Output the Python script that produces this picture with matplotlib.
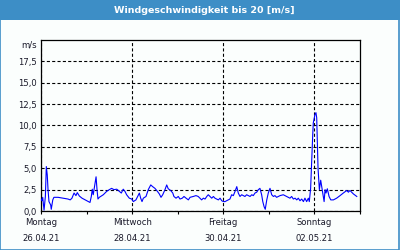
import matplotlib
matplotlib.use("Agg")
import matplotlib.pyplot as plt
from matplotlib.patches import Rectangle

# Stunden ab Montag 26.04.21 00:00 und Windgeschwindigkeit in m/s
hours = [0, 0.5, 0.9, 1.6, 2.3, 2.8, 3.3, 3.7, 4.2, 5.1, 5.4, 6.2, 6.8, 9.0, 11.6,
         14.2, 15.4, 16.3, 17.4, 18.4, 19.1, 20.2, 21.6, 23.3, 25.1, 25.8, 26.5,
         27.0, 27.5, 28.3, 29.0, 29.5, 30.0, 30.7, 32.8, 34.6, 36.0, 37.2, 38.4,
         39.9, 41.2, 42.3, 43.3, 44.2, 45.1, 46.5, 47.8, 48.6, 50.0, 50.9, 51.8,
         52.5, 53.2, 53.9, 55.3, 56.5, 57.8, 58.8, 60.0, 61.3, 62.3, 63.2, 64.1,
         65.3, 66.2, 67.0, 68.3, 69.4, 70.0, 71.1, 72.3, 73.2, 74.4, 75.3, 76.4,
         77.6, 78.5, 80.2, 81.6, 82.8, 83.7, 84.6, 85.5, 86.4, 87.3, 88.1, 89.0,
         89.9, 90.8, 91.6, 92.5, 93.4, 94.3, 95.2, 96.0, 96.9, 97.8, 98.6, 99.5,
         100.4, 101.3, 102.2, 103.1, 103.9, 104.8, 105.7, 106.6, 107.4, 108.3,
         109.2, 110.1, 111.0, 111.8, 112.7, 113.6, 114.5, 115.3, 116.2, 116.8,
         117.5, 118.1, 118.9, 119.7, 120.6, 121.5, 122.4, 123.2, 124.1, 125.0,
         125.9, 127.6, 129.4, 131.1, 132.0, 132.9, 133.8, 134.7, 135.5, 136.4,
         137.3, 138.2, 139.0, 139.9, 140.8, 141.3, 142.0, 142.6, 143.1, 143.4,
         144.3, 144.8, 145.2, 145.5, 145.9, 146.2, 146.6, 147.3, 147.8, 148.4,
         149.1, 149.6, 150.1, 150.8, 151.7, 152.6, 154.0, 155.7, 157.5, 159.2,
         161.0, 161.9, 162.7, 164.5, 166.3]
wind = [1.4, 1.2, 1.6, 0.1, 1.7, 5.2, 4.2, 2.5, 1.1, 0.7, 0.2, 1.3, 1.6, 1.6, 1.5,
        1.4, 1.3, 1.5, 2.1, 1.8, 2.15, 1.75, 1.5, 1.3, 1.1, 1.0, 1.7,
        2.55, 1.9, 3.05, 4.0, 2.5, 1.4, 1.6, 1.9, 2.3, 2.5, 2.65, 2.5,
        2.55, 2.3, 2.1, 2.55, 2.3, 1.9, 1.5, 1.4, 1.1, 1.3, 1.7, 2.1,
        1.5, 1.1, 1.5, 1.7, 2.5, 3.05, 2.85, 2.65, 2.3, 2.0, 1.6, 1.9,
        2.5, 3.05, 2.6, 2.4, 2.1, 1.7, 1.5, 1.7, 1.4, 1.5, 1.7, 1.5,
        1.3, 1.6, 1.7, 1.8, 1.7, 1.5, 1.3, 1.5, 1.4, 1.7, 1.9, 1.7,
        1.5, 1.7, 1.5, 1.4, 1.3, 1.5, 1.2, 1.1, 1.1, 1.2, 1.3, 1.4,
        1.9, 1.8, 2.3, 2.85, 2.1, 1.7, 1.9, 1.8, 1.7, 1.9,
        1.8, 1.7, 1.9, 1.8, 2.1, 2.2, 2.5, 2.65, 1.9, 1.1,
        0.5, 0.2, 1.3, 2.1, 2.65, 1.9, 1.7, 1.8, 1.6, 1.7,
        1.8, 1.9, 1.7, 1.5, 1.7, 1.4, 1.5, 1.3, 1.5, 1.2,
        1.4, 1.1, 1.5, 1.1, 1.5, 1.1, 2.65, 6.2, 8.9, 10.3,
        11.3, 11.5, 10.9, 8.3, 5.0, 4.0, 2.5, 3.6, 2.9, 2.0,
        1.1, 2.5, 2.1, 2.6, 1.7, 1.3, 1.3, 1.5, 1.8, 2.1,
        2.4, 2.2, 2.4, 2.0, 1.7]

day_ticks = [0, 48, 96, 144]
day_labels = ["Montag\n26.04.21", "Mittwoch\n28.04.21", "Freitag\n30.04.21", "Sonntag\n02.05.21"]
y_ticks = [0, 2.5, 5, 7.5, 10, 12.5, 15, 17.5]

blue = "#3d8ec6"
txt = "#1a1a2a"
fig = plt.figure(figsize=(4, 2.5), dpi=100)
fig.patch.set_facecolor("#fbfefd")

# Titelleiste und Rahmen
fig.patches.append(Rectangle((0, 0.92), 1, 0.08, transform=fig.transFigure,
                             facecolor=blue, edgecolor="none", zorder=0))
fig.patches.append(Rectangle((0.0012, 0.002), 0.9975, 0.996, transform=fig.transFigure,
                             facecolor="none", edgecolor=blue, lw=1.2, zorder=1))
fig.text(0.51, 0.959, "Windgeschwindigkeit bis 20 [m/s]", color="white",
         ha="center", va="center", fontsize=6.8, fontweight="bold")

ax = fig.add_axes([0.1025, 0.156, 0.7975, 0.684])
ax.set_facecolor("#fbfefd")
ax.plot(hours, wind, color="#0000ff", lw=0.8, zorder=3)

ax.set_xlim(0, 168)
ax.set_ylim(0, 20)
ax.set_xticks(day_ticks)
ax.set_xticklabels(day_labels, fontsize=6.1, linespacing=1.9, color=txt)
ax.set_xticks([24, 72, 120, 168], minor=True)
ax.set_yticks(y_ticks)
ax.set_yticklabels([f"{v:.1f}".replace(".", ",") for v in y_ticks],
                   fontsize=6.1, color=txt)
ax.tick_params(axis="y", length=0, pad=3)
ax.tick_params(axis="x", which="both", length=2.2, width=0.8, pad=3)
ax.grid(True, which="major", color="black", lw=0.8, linestyle=(0, (2.8, 2)))
for s in ax.spines.values():
    s.set_linewidth(0.9)

fig.text(0.093, 0.82, "m/s", ha="right", va="center", fontsize=6.1, color=txt)

fig.savefig("out.png", dpi=100, facecolor=fig.get_facecolor())
